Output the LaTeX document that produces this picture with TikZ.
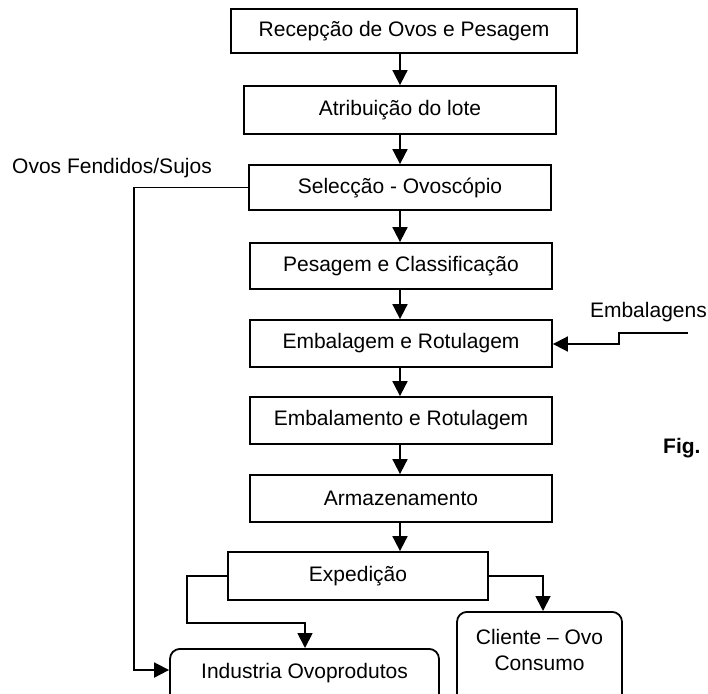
\documentclass[tikz,border=0pt]{standalone}
\usepackage{fontspec}
\setmainfont{Liberation Sans}
\usetikzlibrary{arrows.meta}
\begin{document}
\begin{tikzpicture}[x=1pt,y=-1pt,
  box/.style={draw,line width=1.8pt,minimum width=302pt,minimum height=46pt,inner sep=0pt,font=\fontsize{21}{24}\selectfont},
  rbox/.style={draw,line width=1.8pt,rounded corners=10pt,inner sep=0pt},
  lbl/.style={inner sep=0pt,font=\fontsize{21}{24}\selectfont},
  arr/.style={line width=1.8pt,-{Triangle[length=15pt,width=15pt]}}]
\clip (0,0) rectangle (708,693);
\fill[white] (0,0) rectangle (708,693);
\coordinate (ax) at (400,0);
\node[box,minimum width=346pt,minimum height=44pt] (b1) at (404,31) {Recepção de Ovos e Pesagem};
\node[box,minimum width=312pt,minimum height=48pt] (b2) at (400,110) {Atribuição do lote};
\node[box,minimum width=302pt,minimum height=45pt] (b3) at (400,187.5) {Selecção - Ovoscópio};
\node[box] (b4) at (401,266) {Pesagem e Classificação};
\node[box,minimum height=47pt] (b5) at (401,343.5) {Embalagem e Rotulagem};
\node[box,minimum height=47pt] (b6) at (401,420.5) {Embalamento e Rotulagem};
\node[box,minimum height=47pt] (b7) at (401,498.5) {Armazenamento};
\node[box,minimum width=260pt,minimum height=48pt] (b8) at (358,576) {Expedição};
\node[rbox,minimum width=269pt,minimum height=60pt,anchor=north] (ind) at (304.5,648) {};
\node[lbl] (indt) at (304.5,673) {Industria Ovoprodutos};
\node[rbox,minimum width=165pt,minimum height=100pt,anchor=north] (cli) at (539.5,611) {};
\node[lbl,align=center,font=\fontsize{21}{26}\selectfont] (clit) at (539.5,650) {Cliente – Ovo\\Consumo};
\node[lbl,anchor=west] (ovos) at (12,168) {Ovos Fendidos/Sujos};
\node[lbl,anchor=east] (emb) at (707,312) {Embalagens};
\node[lbl,anchor=west,font=\fontsize{21}{24}\selectfont\bfseries] (fig) at (663,448) {Fig.};
\draw[arr] (b1.south -| ax) -- (b2.north -| ax);
\draw[arr] (b2.south -| ax) -- (b3.north -| ax);
\draw[arr] (b3.south -| ax) -- (b4.north -| ax);
\draw[arr] (b4.south -| ax) -- (b5.north -| ax);
\draw[arr] (b5.south -| ax) -- (b6.north -| ax);
\draw[arr] (b6.south -| ax) -- (b7.north -| ax);
\draw[arr] (b7.south -| ax) -- (b8.north -| ax);
\coordinate (e0) at (688,333);
\draw[arr] (e0) -- (619,333) -- (619,344) -- (b5.east |- 0,344);
\draw[arr] (b3.west) -- (134,187.5) -- (134,670) -- (ind.west |- 0,670);
\draw[arr] (b8.west) -- (187,576) -- (187,623) -- (305,623) -- (305,648);
\draw[arr] (b8.east) -- (543,576) -- (543,611);
\end{tikzpicture}
\end{document}
